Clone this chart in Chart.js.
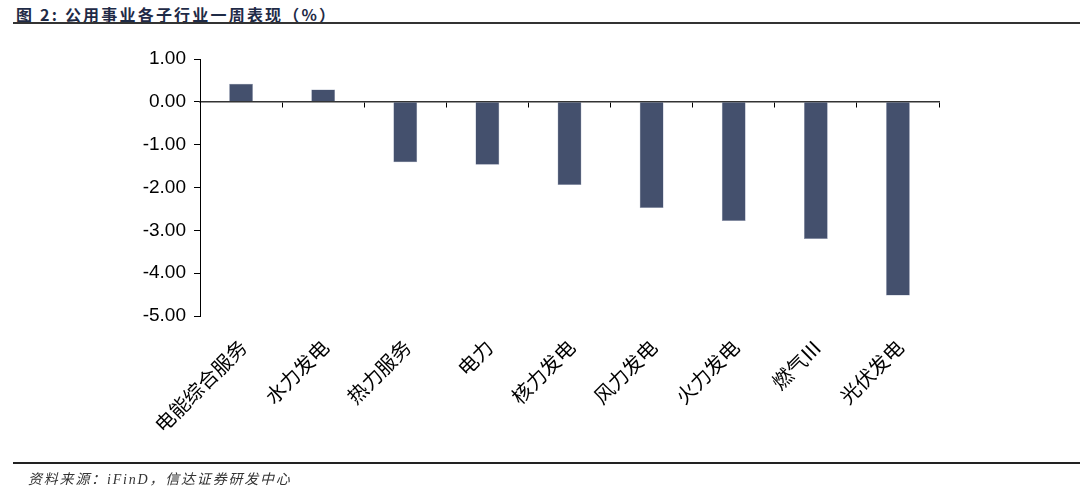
<!DOCTYPE html>
<html>
<head>
<meta charset="utf-8">
<script src="https://cdn.jsdelivr.net/npm/chart.js@4/dist/chart.umd.min.js"></script>
<style>
  html, body { margin: 0; padding: 0; background: #fff; }
  #wrap { position: relative; width: 1080px; height: 494px; overflow: hidden; }
  #title {
    position: absolute; left: 16px; top: 2px;
    font: bold 16px "Noto Sans CJK SC", sans-serif; color: #1f2b47; letter-spacing: 2.2px;
  }
  #topline { position: absolute; left: 13px; right: 0; top: 22px; height: 2px; background: #333; }
  #botline { position: absolute; left: 13px; right: 0; top: 462px; height: 2px; background: #222; }
  #source {
    position: absolute; left: 28px; top: 468px;
    font: italic 14px "Liberation Serif", "Noto Sans CJK SC", serif; color: #333; letter-spacing: 1.8px;
  }
  canvas { position: absolute; left: 0; top: 0; }
</style>
</head>
<body>
<div id="wrap">
  <div id="title">图 2: 公用事业各子行业一周表现（%）</div>
  <div id="topline"></div>
  <canvas id="myChart" width="1080" height="494"></canvas>
  <div id="botline"></div>
  <div id="source">资料来源：iFinD，信达证券研发中心</div>
</div>
<script>
const categories = ["电能综合服务", "水力发电", "热力服务", "电力", "核力发电", "风力发电", "火力发电", "燃气Ⅲ", "光伏发电"];
const weekChange = [0.42, 0.29, -1.41, -1.47, -1.94, -2.48, -2.78, -3.20, -4.52];
const yMin = -5;
const yMax = 1;
const yStep = 1;

const ctx = document.getElementById('myChart').getContext('2d');
const chart = new Chart(ctx, {
    type: 'bar',
    data: {
        labels: categories,
        datasets: [{
            data: weekChange,
            backgroundColor: '#44506d',
            borderColor: '#8d96b0',
            borderWidth: 0.5,
            barPercentage: 0.29,
            categoryPercentage: 1
        }]
    },
    options: {
        responsive: false,
        animation: false,
        layout: { padding: { left: 0, right: 141, top: 59, bottom: 0 } },
        plugins: {
            legend: { display: false },
            tooltip: { enabled: false }
        },
        scales: {
            x: {
                position: 'bottom',
                grid: { display: false },
                border: { display: false },
                ticks: {
                    color: '#000',
                    minRotation: 45,
                    maxRotation: 45,
                    padding: 11,
                    labelOffset: 2,
                    font: { family: '"Noto Sans CJK SC", sans-serif', size: 20 }
                },
                afterFit: (s) => { s.height = 178; }
            },
            // zero line with boundary ticks
            x2: {
                type: 'category',
                axis: 'x',
                labels: categories,
                position: { y: 0 },
                grid: { drawOnChartArea: false, offset: true, tickLength: 5, color: '#000', lineWidth: 1 },
                border: { color: '#333', width: 1.5 },
                ticks: { display: false }
            },
            y: {
                min: yMin,
                max: yMax,
                grid: { drawOnChartArea: false, tickLength: 6, color: '#000' },
                border: { color: '#000', width: 1 },
                ticks: {
                    stepSize: yStep,
                    color: '#000',
                    padding: 8,
                    font: { family: '"Liberation Sans", Arial, sans-serif', size: 19 },
                    callback: (v) => v.toFixed(2)
                },
                afterFit: (s) => { s.width = 200; }
            }
        }
    }
});
</script>
</body>
</html>
